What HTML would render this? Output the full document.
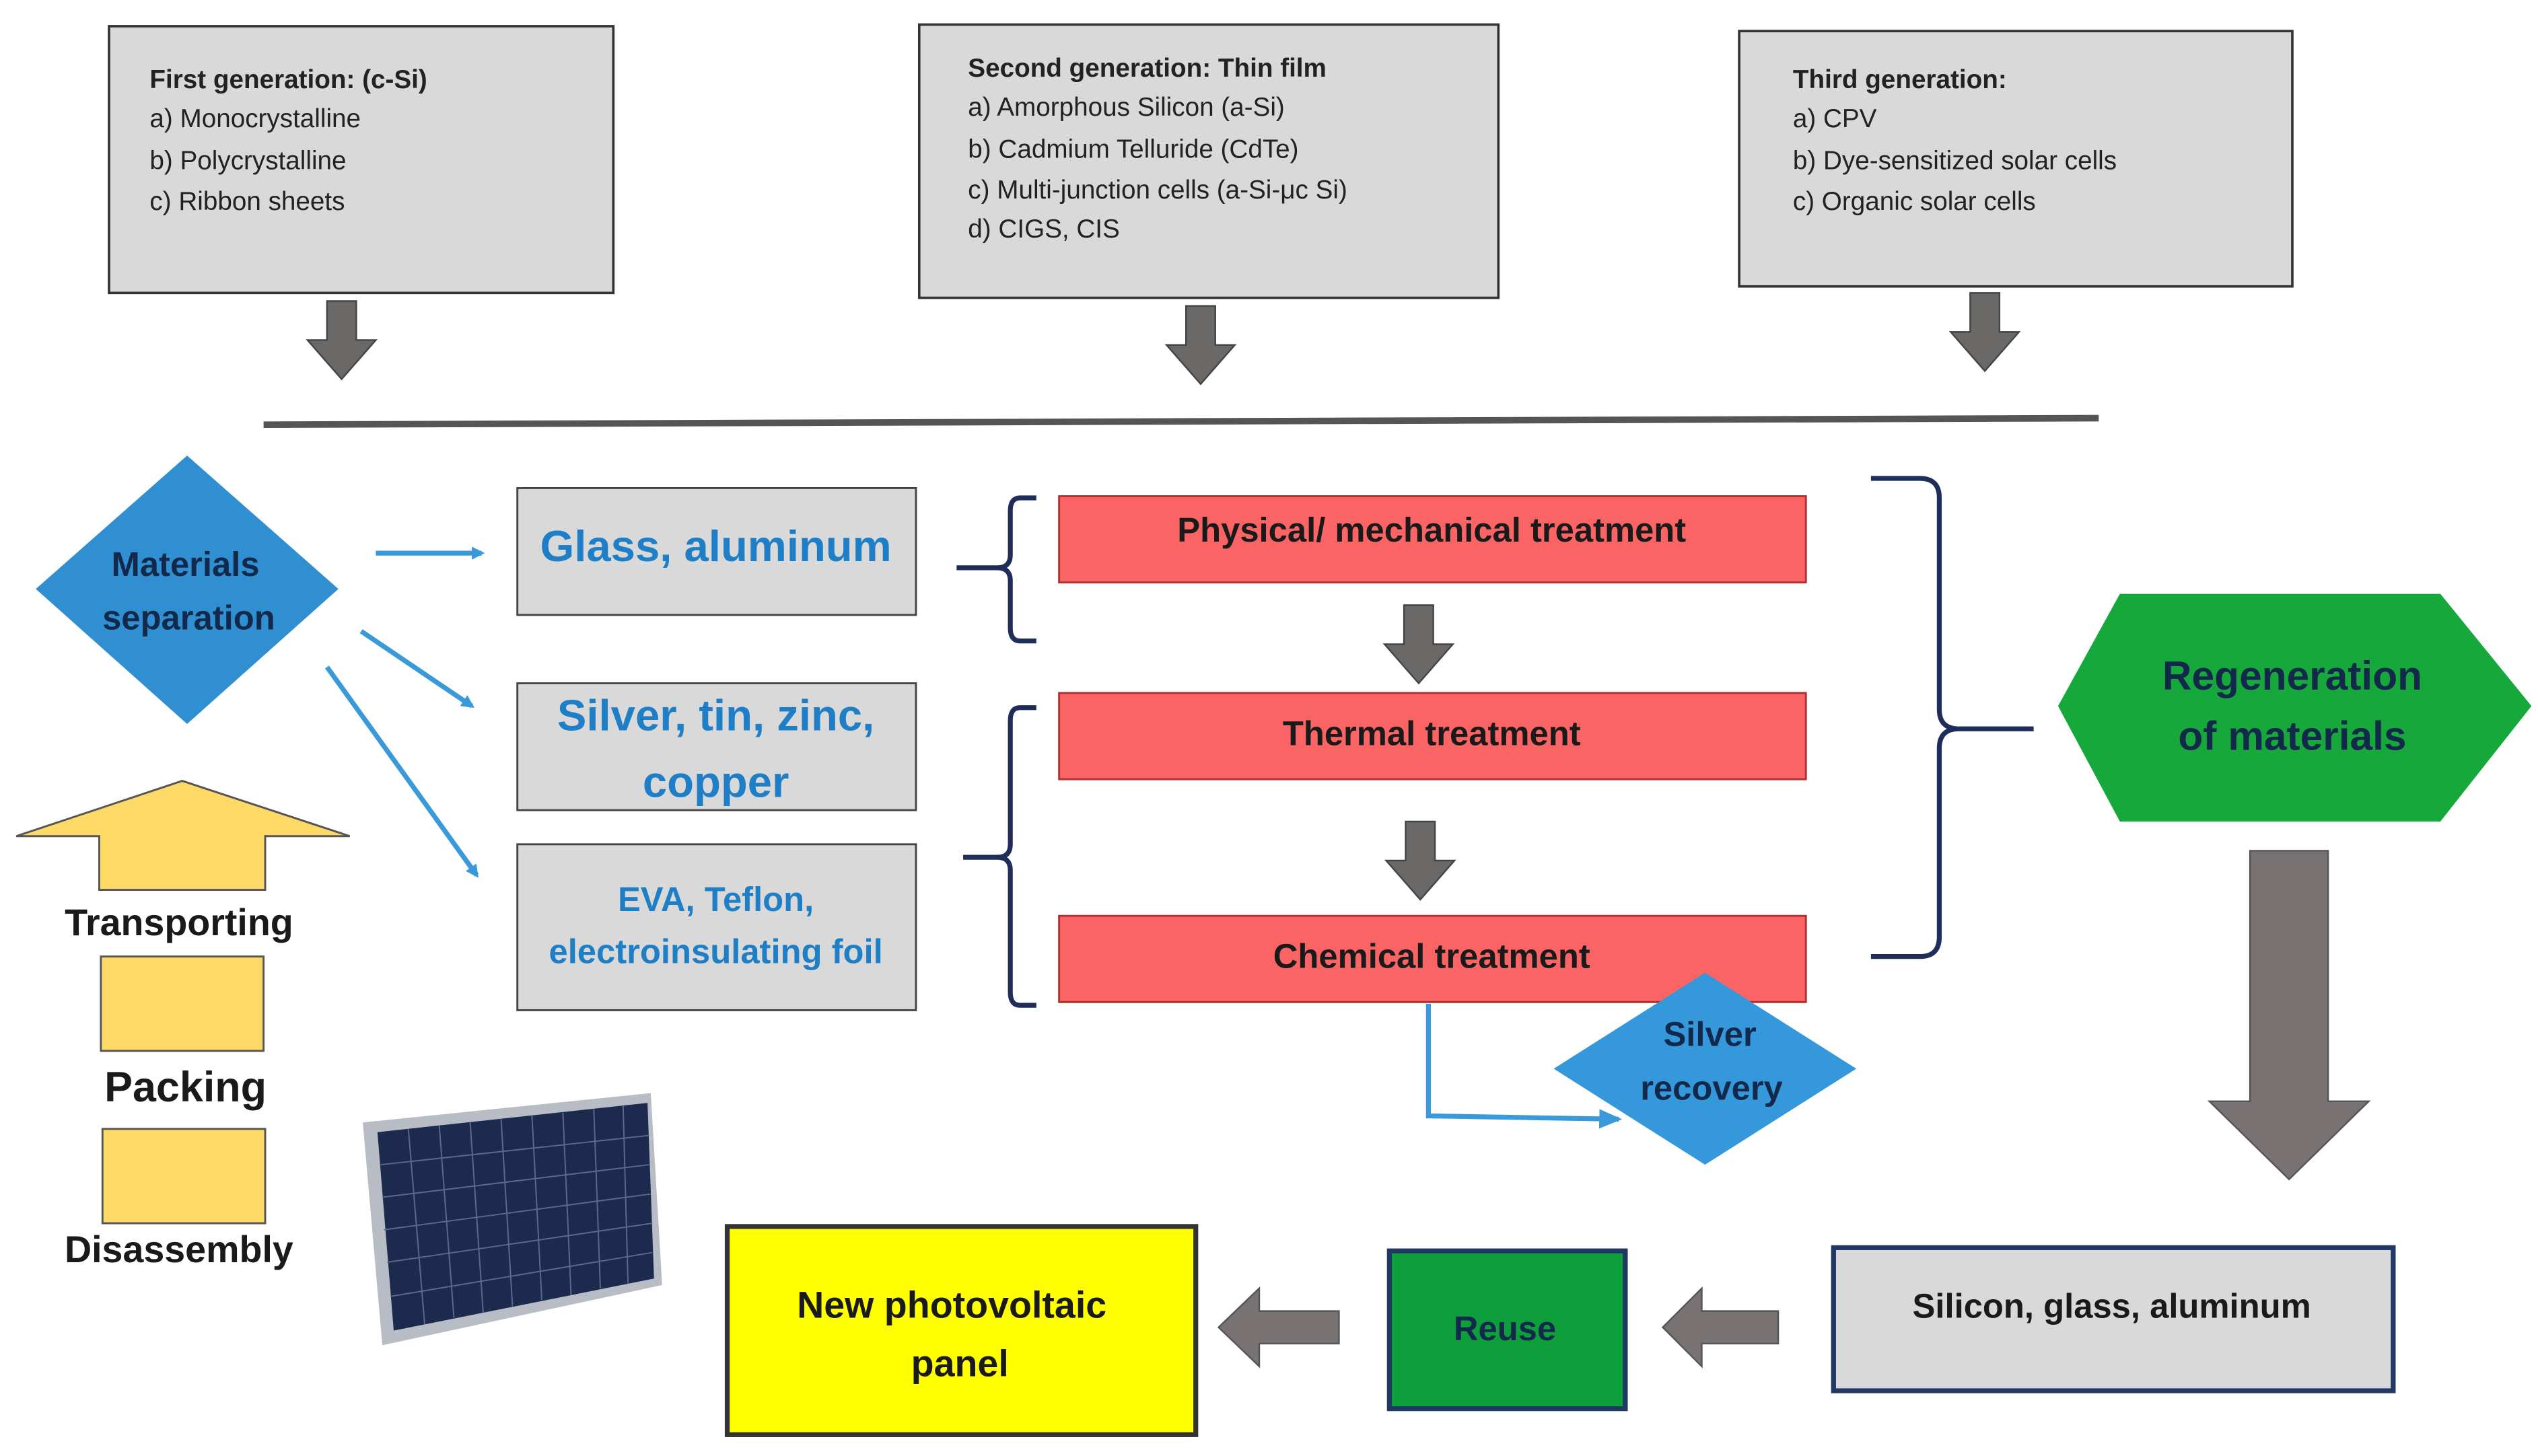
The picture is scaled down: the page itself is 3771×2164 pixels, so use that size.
<!DOCTYPE html>
<html><head><meta charset="utf-8"><style>
html,body{margin:0;padding:0;background:#fff;}
svg{display:block;}
text{font-family:"Liberation Sans",sans-serif;}
</style></head><body>
<svg width="3771" height="2164" viewBox="0 0 1560 895" xmlns="http://www.w3.org/2000/svg">
<defs>
<marker id="ba" markerWidth="8" markerHeight="8" refX="6" refY="4" orient="auto" markerUnits="userSpaceOnUse"><path d="M0,0 L8,4 L0,8 z" fill="#3a9ad9"/></marker>
<marker id="ba2" markerWidth="14" markerHeight="12" refX="12" refY="6" orient="auto" markerUnits="userSpaceOnUse"><path d="M0,0 L14,6 L0,12 z" fill="#3a9ad9"/></marker>
</defs>
<rect width="1560" height="895" fill="#fff"/>

<!-- generation boxes -->
<rect x="67" y="16" width="310" height="164" fill="#d9d9d9" stroke="#333" stroke-width="1.5"/>
<g font-size="16" fill="#222">
<text x="92" y="54" font-weight="bold">First generation: (c-Si)</text>
<text x="92" y="78">a) Monocrystalline</text>
<text x="92" y="104">b) Polycrystalline</text>
<text x="92" y="129">c) Ribbon sheets</text>
</g>
<rect x="565" y="15" width="356" height="168" fill="#d9d9d9" stroke="#333" stroke-width="1.5"/>
<g font-size="16" fill="#222">
<text x="595" y="47" font-weight="bold">Second generation: Thin film</text>
<text x="595" y="71">a) Amorphous Silicon (a-Si)</text>
<text x="595" y="97">b) Cadmium Telluride (CdTe)</text>
<text x="595" y="122">c) Multi-junction cells (a-Si-μc Si)</text>
<text x="595" y="146">d) CIGS, CIS</text>
</g>
<rect x="1069" y="19" width="340" height="157" fill="#d9d9d9" stroke="#333" stroke-width="1.5"/>
<g font-size="16" fill="#222">
<text x="1102" y="54" font-weight="bold">Third generation:</text>
<text x="1102" y="78">a) CPV</text>
<text x="1102" y="104">b) Dye-sensitized solar cells</text>
<text x="1102" y="129">c) Organic solar cells</text>
</g>

<!-- small down arrows -->
<g fill="#6b6868" stroke="#444" stroke-width="1">
<path d="M201,185 h18 v24 h12 l-21,24 l-21,-24 h12 z"/>
<path d="M729,188 h18 v24 h12 l-21,24 l-21,-24 h12 z"/>
<path d="M1211,180 h18 v24 h12 l-21,24 l-21,-24 h12 z"/>
<path d="M863,372 h18 v24 h12 l-21,24 l-21,-24 h12 z"/>
<path d="M864,505 h18 v24 h12 l-21,24 l-21,-24 h12 z"/>
</g>

<line x1="162" y1="261" x2="1290" y2="257" stroke="#555" stroke-width="4"/>

<!-- materials separation diamond -->
<polygon points="115,280 208,362 115,445 22,362" fill="#2f8fd0"/>
<g font-size="21" font-weight="bold" fill="#13294b" text-anchor="middle">
<text x="114" y="354">Materials</text>
<text x="116" y="387">separation</text>
</g>

<g stroke="#3a9ad9" stroke-width="3" fill="none">
<line x1="231" y1="340" x2="296" y2="340" marker-end="url(#ba)"/>
<line x1="222" y1="388" x2="290" y2="434" marker-end="url(#ba)"/>
<line x1="201" y1="410" x2="293" y2="538" marker-end="url(#ba)"/>
</g>

<!-- gray boxes with blue text -->
<g fill="#d9d9d9" stroke="#444" stroke-width="1.2">
<rect x="318" y="300" width="245" height="78"/>
<rect x="318" y="420" width="245" height="78"/>
<rect x="318" y="519" width="245" height="102"/>
</g>
<g font-weight="bold" fill="#1e7fc6" text-anchor="middle">
<text x="440" y="345" font-size="27">Glass, aluminum</text>
<text x="440" y="449" font-size="27">Silver, tin, zinc,</text>
<text x="440" y="490" font-size="27">copper</text>
<text x="440" y="560" font-size="21">EVA, Teflon,</text>
<text x="440" y="592" font-size="21">electroinsulating foil</text>
</g>

<!-- braces -->
<g fill="none" stroke="#1f2d5a" stroke-width="3">
<path d="M637,306 h-10 q-6,0 -6,8 v27 q0,8 -8,8 h-25 h25 q8,0 8,8 v29 q0,8 6,8 h10"/>
<path d="M637,435 h-10 q-6,0 -6,8 v76 q0,8 -8,8 h-21 h21 q8,0 8,8 v75 q0,8 6,8 h10"/>
<path d="M1150,294 h30 q12,0 12,12 v130 q0,12 12,12 h46 h-46 q-12,0 -12,12 v116 q0,12 -12,12 h-30"/>
</g>

<!-- red boxes -->
<g fill="#fa6464" stroke="#b03030" stroke-width="1.2">
<rect x="651" y="305" width="459" height="53"/>
<rect x="651" y="426" width="459" height="53"/>
<rect x="651" y="563" width="459" height="53"/>
</g>
<g font-size="21" font-weight="bold" fill="#1a1a1a" text-anchor="middle">
<text x="880" y="333">Physical/ mechanical treatment</text>
<text x="880" y="458">Thermal treatment</text>
<text x="880" y="595">Chemical treatment</text>
</g>

<!-- silver recovery -->
<polyline points="878,617 878,686 995,688" fill="none" stroke="#3a9ad9" stroke-width="3" marker-end="url(#ba2)"/>
<polygon points="1048,598 1141,657 1048,716 955,657" fill="#3498db"/>
<g font-size="21" font-weight="bold" fill="#13294b" text-anchor="middle">
<text x="1051" y="643">Silver</text>
<text x="1052" y="676">recovery</text>
</g>

<!-- hexagon -->
<polygon points="1265,434 1303,365 1500,365 1556,434 1500,505 1303,505" fill="#16a83a"/>
<g font-size="25" font-weight="bold" fill="#13294b" text-anchor="middle">
<text x="1409" y="424">Regeneration</text>
<text x="1409" y="461">of materials</text>
</g>

<!-- big arrow -->
<path d="M1383,523 h48 v154 h25 l-49,48 l-49,-48 h25 z" fill="#797272" stroke="#555" stroke-width="1"/>

<!-- bottom row -->
<rect x="1127" y="767" width="344" height="88" fill="#d9d9d9" stroke="#1f3864" stroke-width="3"/>
<text x="1298" y="810" font-size="21" font-weight="bold" fill="#1a1a1a" text-anchor="middle">Silicon, glass, aluminum</text>
<g fill="#797272" stroke="#555" stroke-width="1">
<path d="M1093,806 v20 h-47 v14 l-24,-24 l24,-24 v14 z"/>
<path d="M823,806 v20 h-49 v14 l-25,-24 l25,-24 v14 z"/>
</g>
<rect x="854" y="769" width="145" height="97" fill="#0f9e3c" stroke="#1f3864" stroke-width="3"/>
<text x="925" y="824" font-size="21" font-weight="bold" fill="#13294b" text-anchor="middle">Reuse</text>
<rect x="447" y="754" width="288" height="128" fill="#ffff00" stroke="#333" stroke-width="3"/>
<g font-size="23" font-weight="bold" fill="#1a1a1a" text-anchor="middle">
<text x="585" y="810">New photovoltaic</text>
<text x="590" y="846">panel</text>
</g>

<!-- yellow stack -->
<polygon points="10,514 112,480 215,514 163,514 163,547 61,547 61,514" fill="#ffd966" stroke="#555" stroke-width="1.2"/>
<text x="110" y="575" font-size="23" font-weight="bold" fill="#1a1a1a" text-anchor="middle">Transporting</text>
<rect x="62" y="588" width="100" height="58" fill="#ffd966" stroke="#555" stroke-width="1.2"/>
<text x="114" y="677" font-size="26" font-weight="bold" fill="#1a1a1a" text-anchor="middle">Packing</text>
<rect x="63" y="694" width="100" height="58" fill="#ffd966" stroke="#555" stroke-width="1.2"/>
<text x="110" y="776" font-size="23" font-weight="bold" fill="#1a1a1a" text-anchor="middle">Disassembly</text>

<!-- solar panel -->
<polygon points="223,690 400,672 407,790 235,827" fill="#b8bcc4"/>
<polygon points="232,696 398,678 402,786 242,818" fill="#1c2a4e"/>
<g stroke="#5a6a8e" stroke-width="0.8">
<line x1="251" y1="694" x2="261" y2="814"/>
<line x1="270" y1="692" x2="279" y2="810"/>
<line x1="289" y1="690" x2="297" y2="807"/>
<line x1="308" y1="688" x2="315" y2="803"/>
<line x1="327" y1="686" x2="333" y2="799"/>
<line x1="346" y1="684" x2="351" y2="796"/>
<line x1="365" y1="682" x2="369" y2="792"/>
<line x1="383" y1="680" x2="386" y2="789"/>
<line x1="234" y1="716" x2="399" y2="698"/>
<line x1="235" y1="736" x2="399" y2="716"/>
<line x1="236" y1="756" x2="400" y2="734"/>
<line x1="238" y1="776" x2="401" y2="752"/>
<line x1="240" y1="797" x2="401" y2="770"/>
</g>
</svg>
</body></html>
